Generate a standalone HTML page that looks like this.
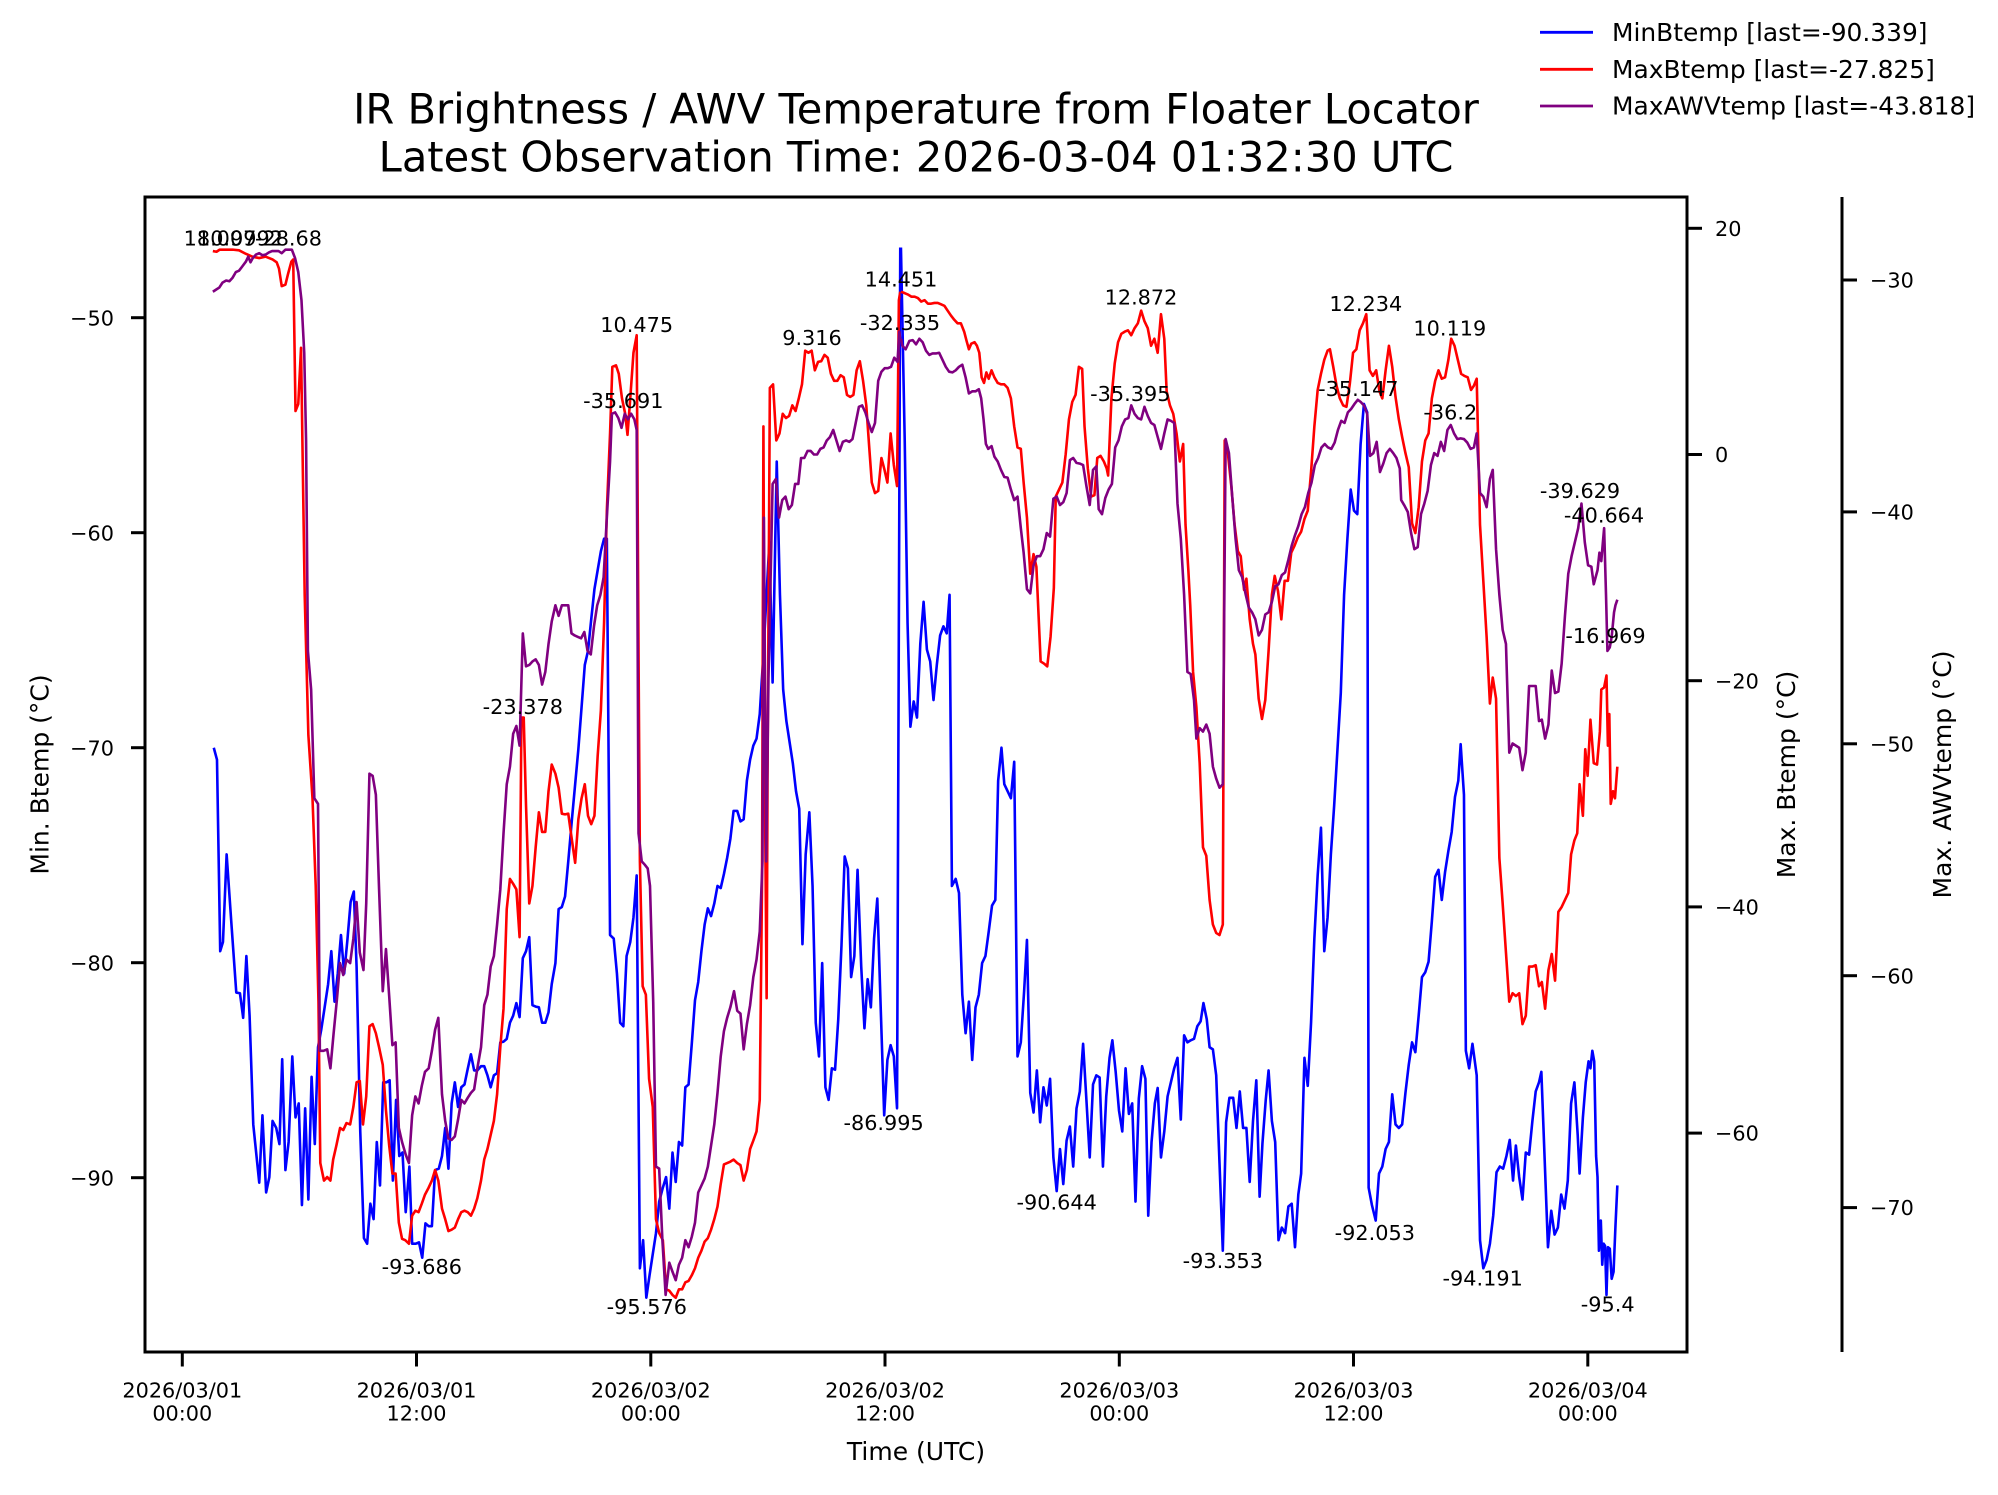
<!DOCTYPE html>
<html>
<head>
<meta charset="utf-8">
<style>
html,body{margin:0;padding:0;background:#fff;}
svg{display:block;}
text{font-family:"DejaVu Sans","Liberation Sans",sans-serif;fill:#000;}
</style>
</head>
<body>
<svg width="1998" height="1495" viewBox="0 0 1998 1495" xmlns="http://www.w3.org/2000/svg">
<rect x="0" y="0" width="1998" height="1495" fill="#fff"/>
<defs>
<clipPath id="ax"><rect x="145" y="197" width="1542" height="1155"/></clipPath>
</defs>

<!-- Title -->
<text x="916" y="123.3" font-size="41.6" text-anchor="middle">IR Brightness / AWV Temperature from Floater Locator</text>
<text x="916" y="171.7" font-size="41.6" text-anchor="middle">Latest Observation Time: 2026-03-04 01:32:30 UTC</text>

<!-- Legend -->
<line x1="1540" y1="32.3" x2="1593" y2="32.3" stroke="#0000ff" stroke-width="2.8"/>
<line x1="1540" y1="69.3" x2="1593" y2="69.3" stroke="#ff0000" stroke-width="2.8"/>
<line x1="1540" y1="106" x2="1593" y2="106" stroke="#800080" stroke-width="2.8"/>
<text x="1612" y="41" font-size="24.9">MinBtemp [last=-90.339]</text>
<text x="1612" y="77.8" font-size="24.9">MaxBtemp [last=-27.825]</text>
<text x="1612" y="114.5" font-size="24.9">MaxAWVtemp [last=-43.818]</text>

<g clip-path="url(#ax)" fill="none" stroke-linejoin="round" stroke-linecap="butt">
<!-- LEFT PART -->
<g transform="translate(200,230) scale(0.459184,0.701530)">
<polyline vector-effect="non-scaling-stroke" stroke="#0000ff" stroke-width="2.6" points="30,738 37,755 44,1028 50,1015 58,890 68,985 79,1087 87,1088 94,1123 101,1035 108,1120 116,1275 129,1358 136,1262 144,1372 151,1350 158,1270 166,1280 173,1303 179,1182 186,1340 193,1300 201,1178 208,1265 215,1245 222,1390 229,1252 236,1382 243,1207 250,1303 257,1165 264,1140 271,1110 279,1075 286,1028 293,1100 300,1060 307,1005 314,1060 321,1012 328,958 335,943 341,1050 349,1285 357,1437 364,1445 371,1388 378,1410 385,1300 392,1362 399,1215 406,1215 413,1212 420,1355 427,1240 434,1320 441,1315 448,1400 456,1335 462,1445 470,1445 477,1443 484,1465 491,1416 498,1420 505,1420 512,1340 520,1338 527,1320 534,1280 541,1338 548,1245 555,1215 562,1250 569,1222 576,1218 583,1196 590,1175 597,1198 604,1198 612,1192 619,1192 626,1205 633,1222 640,1205 647,1202 654,1158 661,1157 668,1153 675,1130 682,1120 689,1102 696,1122 703,1038 710,1028 717,1008 724,1105 731,1107 738,1108 745,1130 752,1130 759,1115 766,1075 774,1045 781,968 788,965 795,950 802,900 810,840 817,790 824,740 831,680 838,620 845,600 852,555 859,512 866,485 873,458 880,440 886,440 893,1005 901,1010 908,1060 915,1130 922,1135 929,1035 937,1015 944,980 951,920 958,1480 965,1440 972,1522 979,1490 986,1460 993,1430 1000,1385 1008,1365 1015,1350 1022,1395 1029,1315 1036,1357 1043,1300 1050,1305 1057,1222 1064,1218 1071,1160 1078,1098 1085,1072 1092,1028 1099,990 1106,967 1113,978 1120,960 1127,935 1134,938 1141,918 1148,895 1155,868 1162,828 1170,828 1177,843 1184,840 1191,785 1198,755 1205,735 1212,725 1219,690 1226,615 1233,530 1240,445 1247,645 1256,330 1263,520 1270,655 1277,700 1284,730 1291,760 1298,800 1305,825 1312,1018 1319,890 1327,830 1334,935 1341,1130 1348,1178 1355,1045 1362,1222 1369,1240 1376,1195 1383,1197 1390,1125 1397,1020 1404,893 1411,910 1418,1065 1425,1035 1432,912 1440,1050 1447,1138 1454,1068 1461,1108 1468,1010 1475,953 1482,1100 1490,1262 1497,1183 1504,1162 1511,1178 1518,1252 1525,25"/>
<polyline vector-effect="non-scaling-stroke" stroke="#ff0000" stroke-width="2.6" points="28,30 36,31 43,28 57,28 71,28 85,29 100,34 114,38 129,40 143,38 158,42 167,46 172,55 178,80 186,78 192,62 199,45 203,42 208,258 214,248 220,168 228,520 236,720 245,810 252,935 258,1100 262,1330 270,1355 277,1350 284,1355 290,1325 297,1305 305,1280 312,1283 319,1273 327,1275 334,1250 341,1215 348,1213 355,1275 362,1235 369,1135 376,1132 383,1145 390,1165 398,1190 405,1255 412,1305 419,1345 426,1345 433,1415 440,1438 447,1440 455,1445 462,1405 469,1398 476,1400 483,1388 490,1375 498,1365 505,1355 512,1340 519,1355 527,1395 534,1410 541,1427 548,1425 555,1422 562,1410 569,1400 576,1398 583,1400 590,1405 597,1395 604,1380 612,1355 619,1325 626,1310 633,1290 640,1270 647,1232 654,1165 661,1110 668,968 675,925 682,932 689,940 696,1008 700,695 705,695 710,820 717,960 724,935 731,880 738,830 745,858 752,858 759,800 766,762 774,775 781,795 788,832 795,833 802,832 810,870 817,902 824,840 831,810 838,790 845,835 852,847 859,835 866,750 873,685 880,560 886,400 893,290 898,195 906,193 912,205 919,240 926,262 931,292 937,240 944,175 951,150 955,600 958,900 964,1078 971,1090 978,1210 986,1250 993,1410 1000,1430 1008,1440 1015,1510 1022,1512 1029,1518 1036,1522 1043,1510 1050,1510 1057,1500 1064,1498 1071,1490 1078,1480 1085,1465 1092,1455 1099,1442 1106,1437 1113,1425 1120,1410 1127,1392 1134,1360 1141,1332 1148,1330 1155,1328 1162,1325 1170,1330 1177,1333 1184,1355 1191,1340 1198,1310 1205,1298 1212,1285 1219,1240 1224,930 1227,280 1230,780 1234,1095 1236,780 1241,225 1248,220 1255,300 1262,290 1269,262 1276,268 1283,265 1290,250 1297,258 1304,240 1311,220 1318,172 1325,175 1332,172 1339,200 1346,188 1353,187 1360,178 1367,182 1374,205 1381,215 1388,215 1395,207 1402,210 1409,235 1416,238 1423,235 1430,200 1437,187 1444,215 1451,250 1458,315 1463,360 1470,375 1477,372 1484,325 1490,340 1497,360 1504,290 1511,335 1518,365 1522,100 1525,88"/>
<polyline vector-effect="non-scaling-stroke" stroke="#800080" stroke-width="2.6" points="28,88 35,85 42,82 49,75 57,72 64,73 71,68 78,60 85,58 92,52 100,45 105,38 110,46 115,40 122,35 129,33 136,36 143,35 150,32 157,30 164,30 171,30 178,33 186,28 193,28 200,28 207,40 214,60 221,100 227,175 231,300 235,600 242,655 249,810 257,818 261,1170 269,1170 277,1168 284,1195 291,1145 298,1098 305,1045 312,1062 319,1040 327,1045 334,1010 341,958 348,1030 356,1055 362,960 369,775 376,778 383,805 390,940 398,1085 405,1025 412,1092 419,1162 426,1158 433,1280 440,1300 448,1318 455,1330 462,1262 469,1235 476,1245 483,1220 490,1200 498,1195 505,1170 512,1140 519,1123 527,1232 534,1270 541,1295 548,1297 555,1292 562,1268 569,1240 576,1245 583,1237 590,1230 597,1225 604,1195 612,1165 619,1105 626,1090 633,1050 640,1035 647,990 654,940 661,860 668,790 675,765 682,718 689,707 696,735 703,575 710,622 717,620 724,615 731,612 738,620 745,648 752,630 759,590 766,558 774,535 781,550 788,535 795,535 802,535 809,575 816,578 823,580 830,582 837,573 844,600 851,605 858,565 865,535 872,520 879,495 886,410 893,330 897,262 904,260 911,268 918,282 925,262 932,270 939,262 946,270 951,285 955,860 962,900 969,905 975,910 980,935 987,1100 993,1335 1000,1338 1007,1440 1014,1518 1022,1472 1029,1485 1036,1497 1043,1475 1050,1465 1057,1440 1064,1450 1071,1435 1078,1415 1085,1372 1092,1362 1099,1352 1106,1335 1113,1305 1120,1275 1127,1230 1134,1178 1141,1142 1148,1123 1155,1108 1163,1085 1170,1113 1177,1117 1184,1168 1191,1132 1198,1105 1205,1065 1212,1040 1219,1000 1225,900 1228,410 1233,900 1238,640 1247,362 1254,355 1261,410 1268,385 1275,380 1282,398 1289,392 1296,362 1303,362 1309,325 1316,325 1323,315 1330,315 1337,320 1344,320 1351,312 1358,310 1365,300 1372,295 1379,285 1386,300 1393,315 1400,302 1407,300 1414,302 1421,298 1428,275 1435,252 1442,250 1449,260 1456,275 1463,288 1470,275 1477,215 1484,202 1491,197 1498,197 1505,195 1512,182 1519,188 1523,145 1525,155"/>
</g>
<!-- RIGHT PART -->
<g transform="translate(900,230) scale(0.471935,0.701530)">
<polyline vector-effect="non-scaling-stroke" stroke="#0000ff" stroke-width="2.6" points="2,25 10,300 16,560 22,708 29,672 36,695 43,590 50,530 57,598 64,615 71,670 78,620 85,578 92,565 99,575 105,520 110,935 118,925 125,945 132,1090 139,1145 146,1100 153,1183 160,1108 167,1090 174,1045 181,1035 188,1000 195,963 202,955 208,785 215,738 221,790 228,800 235,810 242,758 249,1178 256,1158 263,1085 269,1012 276,1230 283,1258 290,1198 297,1272 304,1222 311,1248 318,1210 325,1322 332,1370 339,1310 346,1360 353,1298 360,1278 367,1335 374,1252 381,1228 388,1160 395,1240 402,1322 409,1218 416,1205 423,1208 430,1335 437,1235 444,1180 450,1155 457,1200 464,1255 471,1285 478,1195 485,1260 492,1245 499,1385 506,1238 513,1192 520,1210 526,1405 533,1300 540,1245 546,1223 553,1322 560,1285 567,1235 574,1215 581,1195 588,1180 595,1268 602,1148 609,1158 616,1155 623,1153 630,1135 637,1128 643,1102 650,1125 656,1165 663,1168 670,1205 677,1330 684,1455 691,1272 698,1237 706,1237 713,1280 720,1228 727,1280 734,1280 741,1357 748,1270 755,1212 762,1378 768,1302 775,1240 781,1198 788,1270 795,1300 802,1440 809,1422 816,1430 823,1392 830,1388 837,1450 844,1375 850,1345 857,1180 864,1220 871,1130 878,1010 885,920 892,852 899,1028 906,980 913,890 920,820 927,740 934,660 941,520 948,440 955,370 962,400 969,405 976,305 983,248 990,260 993,1365 1000,1390 1008,1412 1015,1345 1022,1335 1029,1310 1036,1300 1043,1232 1050,1275 1057,1280 1064,1275 1071,1230 1078,1190 1085,1158 1092,1172 1099,1120 1106,1065 1113,1058 1120,1043 1127,985 1134,922 1141,912 1148,955 1155,915 1162,885 1169,858 1176,808 1183,785 1188,733 1195,805 1199,1170 1206,1195 1213,1160 1222,1205 1229,1440 1236,1480 1243,1468 1250,1445 1257,1405 1264,1343 1271,1335 1278,1338 1285,1320 1292,1297 1299,1355 1305,1305 1312,1350 1319,1382 1326,1315 1333,1318 1340,1270 1347,1228 1354,1215 1359,1200 1366,1325 1373,1450 1380,1398 1387,1432 1394,1422 1401,1375 1408,1395 1415,1355 1422,1245 1429,1215 1436,1290 1440,1345 1447,1265 1453,1215 1459,1185 1463,1195 1467,1170 1471,1185 1475,1320 1478,1350 1481,1455 1485,1412 1488,1475 1491,1445 1494,1448 1497,1518 1500,1450 1504,1452 1508,1495 1512,1485 1516,1420 1520,1362"/>
<polyline vector-effect="non-scaling-stroke" stroke="#ff0000" stroke-width="2.6" points="2,88 10,90 17,92 24,95 31,95 38,97 45,102 52,100 59,105 66,105 73,104 80,104 87,106 94,108 101,115 108,122 115,128 122,133 129,133 136,145 141,158 146,170 151,162 158,160 163,165 168,175 173,210 178,218 183,203 188,212 194,200 200,210 207,218 214,220 221,220 228,225 235,240 242,280 249,310 256,312 262,360 269,410 276,490 283,462 289,480 292,525 298,615 305,618 312,622 319,580 326,510 330,380 337,370 344,360 351,320 358,270 365,245 372,235 379,195 386,198 391,280 398,340 405,380 412,378 418,325 425,322 432,330 438,340 441,350 448,240 455,190 462,160 469,148 476,145 483,143 490,150 497,140 504,133 511,115 518,130 525,140 532,165 539,155 546,175 553,120 560,155 565,230 572,250 579,262 586,290 593,330 600,305 605,420 611,485 615,535 621,630 628,680 635,760 642,880 649,892 656,955 663,990 670,1002 677,1005 684,990 688,300 695,320 702,365 709,420 716,458 722,465 729,513 734,497 741,555 748,590 753,605 760,668 767,697 774,670 781,600 788,520 794,493 801,515 808,555 815,500 822,500 829,460 836,450 843,438 850,430 857,412 864,400 871,345 878,280 885,228 892,205 899,185 906,172 911,170 918,195 925,222 932,240 939,250 946,252 953,220 960,175 967,170 974,143 981,133 988,120 995,200 1002,208 1009,200 1016,230 1022,240 1029,200 1036,165 1043,195 1050,238 1057,270 1064,295 1071,318 1078,338 1085,418 1092,432 1099,395 1106,330 1113,300 1120,290 1127,240 1134,215 1141,200 1148,212 1155,210 1162,185 1168,155 1175,165 1182,185 1189,205 1196,208 1203,210 1210,228 1216,222 1222,212 1229,420 1236,500 1243,580 1250,675 1256,638 1263,668 1270,895 1277,960 1284,1030 1291,1100 1298,1088 1305,1092 1312,1088 1319,1132 1326,1120 1333,1050 1340,1050 1347,1048 1354,1078 1360,1072 1367,1110 1374,1055 1381,1032 1388,1070 1395,972 1402,965 1409,955 1416,945 1422,890 1429,870 1435,860 1440,790 1447,835 1452,740 1457,778 1463,698 1470,760 1477,762 1483,715 1486,655 1492,652 1497,635 1500,735 1503,690 1506,818 1511,800 1515,810 1520,765"/>
<polyline vector-effect="non-scaling-stroke" stroke="#800080" stroke-width="2.6" points="2,155 5,165 12,170 20,158 27,157 34,163 41,155 48,160 55,172 62,178 69,176 76,176 83,175 90,185 97,195 104,202 111,203 118,200 125,195 132,192 139,210 146,233 153,230 160,230 167,227 172,240 177,270 182,305 187,312 194,308 200,323 207,330 214,342 221,352 228,353 235,370 242,385 249,380 256,425 262,460 269,512 276,518 283,478 290,465 297,465 304,455 311,432 318,437 325,383 332,380 339,392 346,388 353,375 360,328 367,325 374,332 381,333 388,335 395,365 402,392 409,342 416,337 421,398 428,405 435,382 442,370 449,362 456,310 463,300 470,280 477,270 484,268 490,250 497,262 504,268 511,270 518,252 525,265 532,275 539,278 546,295 553,312 560,290 567,270 574,272 581,275 588,390 595,440 602,520 609,630 616,633 623,670 628,725 635,710 642,715 649,705 656,718 663,765 670,782 677,795 684,790 690,298 697,318 704,380 711,440 718,485 725,495 732,518 739,538 746,545 753,555 760,578 767,570 774,548 781,545 788,530 795,508 802,505 809,492 816,488 823,470 830,450 837,435 844,422 851,405 858,395 865,375 872,360 879,335 886,325 893,310 900,305 907,310 914,312 921,303 928,285 935,272 942,275 949,260 956,255 963,248 970,242 976,245 983,250 990,262 996,322 1003,318 1010,302 1017,345 1024,333 1031,318 1038,312 1045,318 1052,325 1059,340 1062,385 1069,393 1076,402 1083,432 1090,455 1097,452 1104,405 1111,390 1118,372 1125,335 1132,318 1139,322 1146,302 1153,315 1160,285 1167,278 1174,290 1181,298 1188,297 1195,298 1202,303 1209,312 1216,310 1222,290 1229,375 1236,380 1243,395 1250,355 1256,342 1263,455 1270,520 1277,570 1284,590 1291,745 1298,732 1305,735 1312,738 1319,770 1326,745 1333,650 1340,650 1347,650 1354,700 1360,698 1367,725 1374,705 1381,628 1388,660 1395,658 1402,618 1409,550 1416,490 1423,465 1430,445 1437,425 1444,390 1451,445 1458,478 1465,480 1470,505 1474,495 1478,485 1482,460 1486,472 1489,448 1492,425 1496,520 1499,600 1504,595 1508,580 1513,545 1516,535 1520,527"/>
</g>
</g>

<!-- Annotations -->
<g font-size="20.8" text-anchor="middle">
<text x="220" y="245.7">18.097</text>
<text x="240" y="245.7">10.0992</text>
<text x="288.5" y="245.7">-28.68</text>
<text x="636.7" y="332">10.475</text>
<text x="623.3" y="408">-35.691</text>
<text x="812" y="345">9.316</text>
<text x="522.8" y="714">-23.378</text>
<text x="421.8" y="1274">-93.686</text>
<text x="646.8" y="1314">-95.576</text>
<text x="901" y="286.5">14.451</text>
<text x="900" y="330">-32.335</text>
<text x="883.6" y="1130">-86.995</text>
<text x="1141" y="304.6">12.872</text>
<text x="1130.3" y="401">-35.395</text>
<text x="1365.8" y="311">12.234</text>
<text x="1358.3" y="396">-35.147</text>
<text x="1449.8" y="335.5">10.119</text>
<text x="1450.3" y="419.7">-36.2</text>
<text x="1580" y="498">-39.629</text>
<text x="1604" y="522.5">-40.664</text>
<text x="1605.5" y="643">-16.969</text>
<text x="1056.7" y="1209.6">-90.644</text>
<text x="1222.8" y="1268">-93.353</text>
<text x="1374.8" y="1240">-92.053</text>
<text x="1482.7" y="1285.5">-94.191</text>
<text x="1607.7" y="1311.7">-95.4</text>
</g>

<!-- Axes frame -->
<rect x="145" y="197" width="1542" height="1155" fill="none" stroke="#000" stroke-width="3"/>
<line x1="1842" y1="197" x2="1842" y2="1352" stroke="#000" stroke-width="3"/>

<!-- X ticks -->
<g stroke="#000" stroke-width="3">
<line x1="182.3" y1="1352" x2="182.3" y2="1366.5"/>
<line x1="416.5" y1="1352" x2="416.5" y2="1366.5"/>
<line x1="650.8" y1="1352" x2="650.8" y2="1366.5"/>
<line x1="885" y1="1352" x2="885" y2="1366.5"/>
<line x1="1119.3" y1="1352" x2="1119.3" y2="1366.5"/>
<line x1="1353.5" y1="1352" x2="1353.5" y2="1366.5"/>
<line x1="1587.8" y1="1352" x2="1587.8" y2="1366.5"/>
</g>
<g font-size="20.8" text-anchor="middle">
<text x="182.3" y="1397.5">2026/03/01</text><text x="182.3" y="1420.5">00:00</text>
<text x="416.5" y="1397.5">2026/03/01</text><text x="416.5" y="1420.5">12:00</text>
<text x="650.8" y="1397.5">2026/03/02</text><text x="650.8" y="1420.5">00:00</text>
<text x="885" y="1397.5">2026/03/02</text><text x="885" y="1420.5">12:00</text>
<text x="1119.3" y="1397.5">2026/03/03</text><text x="1119.3" y="1420.5">00:00</text>
<text x="1353.5" y="1397.5">2026/03/03</text><text x="1353.5" y="1420.5">12:00</text>
<text x="1587.8" y="1397.5">2026/03/04</text><text x="1587.8" y="1420.5">00:00</text>
</g>
<text x="916" y="1460" font-size="25" text-anchor="middle">Time (UTC)</text>

<!-- Left Y ticks -->
<g stroke="#000" stroke-width="3">
<line x1="131" y1="317.7" x2="145" y2="317.7"/>
<line x1="131" y1="532.7" x2="145" y2="532.7"/>
<line x1="131" y1="747.7" x2="145" y2="747.7"/>
<line x1="131" y1="962.7" x2="145" y2="962.7"/>
<line x1="131" y1="1177.7" x2="145" y2="1177.7"/>
</g>
<g font-size="20.8" text-anchor="end">
<text x="114" y="325.3">−50</text>
<text x="114" y="540.3">−60</text>
<text x="114" y="755.3">−70</text>
<text x="114" y="970.3">−80</text>
<text x="114" y="1185.3">−90</text>
</g>
<text transform="translate(48.5,774.5) rotate(-90)" font-size="25" text-anchor="middle">Min. Btemp (°C)</text>

<!-- Right Y ticks (Max Btemp) -->
<g stroke="#000" stroke-width="3">
<line x1="1687" y1="228.3" x2="1702" y2="228.3"/>
<line x1="1687" y1="454.5" x2="1702" y2="454.5"/>
<line x1="1687" y1="680.7" x2="1702" y2="680.7"/>
<line x1="1687" y1="906.9" x2="1702" y2="906.9"/>
<line x1="1687" y1="1133.1" x2="1702" y2="1133.1"/>
</g>
<g font-size="20.8">
<text x="1715" y="235.9">20</text>
<text x="1715" y="462.1">0</text>
<text x="1715" y="688.3">−20</text>
<text x="1715" y="914.5">−40</text>
<text x="1715" y="1140.7">−60</text>
</g>
<text transform="translate(1795,774.5) rotate(-90)" font-size="25" text-anchor="middle">Max. Btemp (°C)</text>

<!-- Third Y ticks (Max AWVtemp) -->
<g stroke="#000" stroke-width="3">
<line x1="1842" y1="280" x2="1857" y2="280"/>
<line x1="1842" y1="511.9" x2="1857" y2="511.9"/>
<line x1="1842" y1="743.8" x2="1857" y2="743.8"/>
<line x1="1842" y1="975.7" x2="1857" y2="975.7"/>
<line x1="1842" y1="1207.6" x2="1857" y2="1207.6"/>
</g>
<g font-size="20.8">
<text x="1870" y="287.6">−30</text>
<text x="1870" y="519.5">−40</text>
<text x="1870" y="751.4">−50</text>
<text x="1870" y="983.3">−60</text>
<text x="1870" y="1215.2">−70</text>
</g>
<text transform="translate(1951,774.5) rotate(-90)" font-size="25" text-anchor="middle">Max. AWVtemp (°C)</text>
</svg>
</body>
</html>
